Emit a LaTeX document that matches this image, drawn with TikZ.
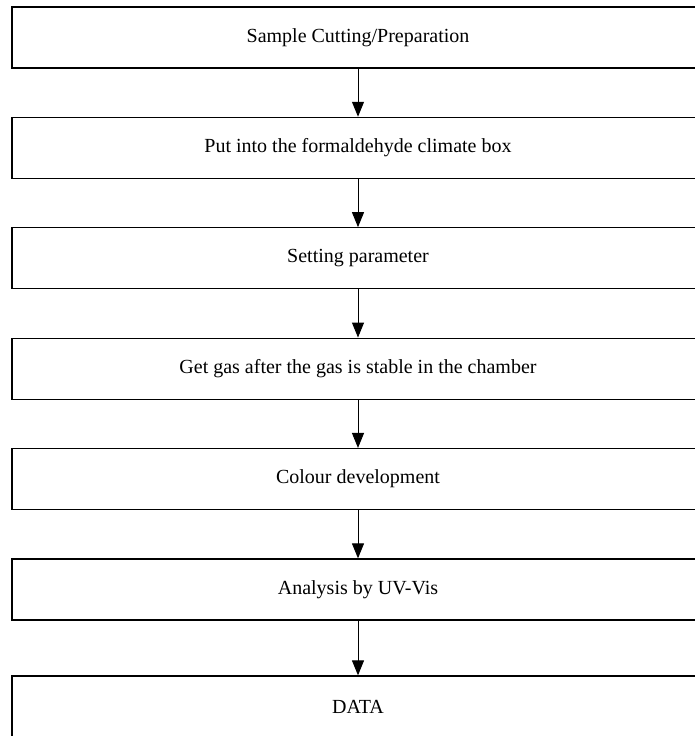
\documentclass[tikz,border=0pt]{standalone}
\usepackage{fontspec}
\setmainfont{Liberation Serif}
\usepackage{tikz}
\usetikzlibrary{arrows.meta}

\begin{document}
\begin{tikzpicture}[x=1pt, y=1pt,
  stepbox/.style={draw, line width=1.3pt, minimum width=692pt, minimum height=61pt,
    inner sep=0pt, font=\fontsize{20}{24}\selectfont},
  flow/.style={line width=1pt, -{Triangle[width=12pt,length=15pt]}}]
\useasboundingbox (0,0) rectangle (694,-736);

\draw (358,-37.5) node[stepbox] (cut) {Sample Cutting/Preparation} ;

\draw (358,-147.9) node[stepbox] (box) {Put into the formaldehyde climate box} ;
\draw[flow] (cut) to (box) ;

\draw (358,-258.3) node[stepbox] (par) {Setting parameter} ;
\draw[flow] (box) to (par) ;

\draw (358,-368.7) node[stepbox] (gas) {Get gas after the gas is stable in the chamber} ;
\draw[flow] (par) to (gas) ;

\draw (358,-479.1) node[stepbox] (col) {Colour development} ;
\draw[flow] (gas) to (col) ;

\draw (358,-589.5) node[stepbox] (uv) {Analysis by UV-Vis} ;
\draw[flow] (col) to (uv) ;

% last step sits a little lower
\draw (358,-706.5) node[stepbox] (data) {DATA} ;
\draw[flow] (uv) to (data) ;

\end{tikzpicture}
\end{document}
